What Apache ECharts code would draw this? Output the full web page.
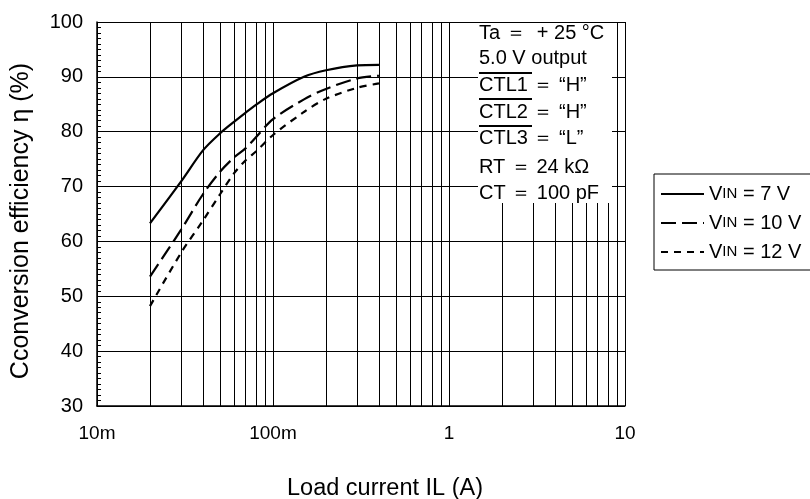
<!DOCTYPE html>
<html>
<head>
<meta charset="utf-8">
<script src="https://cdn.jsdelivr.net/npm/echarts@6/dist/echarts.min.js"></script>
<style>
  html, body { margin: 0; padding: 0; background: #fff; }
  #chart { width: 810px; height: 499px; }
</style>
</head>
<body>
<div id="chart"></div>
<script>
// ---- data ----
var currents = [0.02, 0.03, 0.04, 0.05, 0.06, 0.07, 0.08, 0.1, 0.15, 0.2, 0.3, 0.4];
var vin7  = [63.3, 70.9, 76.6, 79.7, 81.8, 83.5, 84.9, 87.0, 90.0, 91.2, 92.1, 92.2];
var vin10 = [53.6, 62.1, 68.6, 72.7, 75.3, 77.0, 79.0, 82.3, 85.9, 87.8, 89.7, 90.2];
var vin12 = [48.2, 57.9, 63.8, 68.6, 72.4, 74.8, 76.4, 79.4, 83.6, 86.0, 88.0, 88.8];
var seriesNames = ['VIN = 7 V', 'VIN = 10 V', 'VIN = 12 V'];
var xTickValues = [0.01, 0.1, 1, 10];
var xTickLabels = ['10m', '100m', '1', '10'];
var minorX = [0.02,0.03,0.04,0.05,0.06,0.07,0.08,0.09,
              0.2,0.3,0.4,0.5,0.6,0.7,0.8,0.9,
              2,3,4,5,6,7,8,9];
var notes = ['Ta \uFF1D  + 25 \u00B0C', '5.0 V output', 'CTL1 \uFF1D \u201CH\u201D',
             'CTL2 \uFF1D \u201CH\u201D', 'CTL3 \uFF1D \u201CL\u201D', 'RT \uFF1D 24 k\u03A9', 'CT \uFF1D 100 pF'];

function pairs(ys) { return currents.map(function (x, i) { return [x, ys[i]]; }); }

var FONT = 'Liberation Sans, Arial, sans-serif';
var chart = echarts.init(document.getElementById('chart'), null, { renderer: 'canvas' });

var noteY = [33, 58, 85, 112, 138, 167, 193];
var graphics = [{
  type: 'rect', z: 100,
  shape: { x: 478, y: 23, width: 134, height: 180 },
  style: { fill: '#fff' }
}];
notes.forEach(function (t, i) {
  graphics.push({
    type: 'text', z: 101, left: 479, top: noteY[i] - 10,
    style: { text: t, font: '20px ' + FONT, fill: '#000' }
  });
});
[73, 99, 126].forEach(function (y) {
  graphics.push({
    type: 'line', z: 101,
    shape: { x1: 479, y1: y, x2: 532, y2: y },
    style: { stroke: '#000', lineWidth: 2 }
  });
});

var option = {
  backgroundColor: '#fff',
  animation: false,
  textStyle: { fontFamily: FONT, color: '#000' },
  grid: { left: 97, right: 185, top: 22, bottom: 93, containLabel: false, outerBoundsMode: 'none' },
  legend: {
    orient: 'vertical', left: 654, top: 174,
    data: seriesNames,
    itemWidth: 43, itemHeight: 14, itemGap: 9,
    padding: [10, 40, 8, 6],
    itemStyle: { opacity: 0 },
    backgroundColor: '#fff', borderColor: '#000', borderWidth: 1,
    formatter: function (name) { return '{a|V}{b|IN}{a|' + name.slice(3) + '}'; },
    textStyle: {
      color: '#000', fontFamily: FONT,
      rich: { a: { fontSize: 20, lineHeight: 22, fontFamily: FONT, color: '#000' },
              b: { fontSize: 15, lineHeight: 22, fontFamily: FONT, color: '#000' } }
    }
  },
  xAxis: {
    type: 'log', logBase: 10, min: 0.01, max: 10,
    name: 'Load current IL (A)', nameLocation: 'middle', nameGap: 71,
    nameTextStyle: { fontSize: 23.5, color: '#000', fontFamily: FONT, padding: [0, 0, 0, 48] },
    axisLine: { lineStyle: { color: '#000', width: 1.5 } },
    axisTick: { show: false },
    axisLabel: {
      fontSize: 19, color: '#000', margin: 18, fontFamily: FONT,
      formatter: function (v) {
        var e = Math.round(Math.log10(v));
        for (var i = 0; i < xTickValues.length; i++) {
          if (Math.round(Math.log10(xTickValues[i])) === e) return xTickLabels[i];
        }
        return '';
      }
    },
    splitLine: { show: true, lineStyle: { color: '#000', width: 1 } }
  },
  yAxis: {
    type: 'value', min: 30, max: 100, interval: 10,
    name: 'Cconversion efficiency \u03B7 (%)', nameLocation: 'middle', nameGap: 63,
    nameTextStyle: { fontSize: 25, color: '#000', fontFamily: FONT, padding: [0, 14, 0, 0] },
    axisLine: { show: true, lineStyle: { color: '#000', width: 1.5 } },
    axisTick: { show: true, inside: true, length: 4, lineStyle: { color: '#000' } },
    minorTick: { show: true, splitNumber: 10, length: 4, lineStyle: { color: '#000' } },
    axisLabel: { fontSize: 20, color: '#000', margin: 14, fontFamily: FONT },
    splitLine: { show: true, lineStyle: { color: '#000', width: 1 } }
  },
  series: [
    {
      name: seriesNames[0], type: 'line', data: pairs(vin7), smooth: 0.3,
      symbol: 'none', lineStyle: { color: '#000', width: 2.2, type: 'solid' },
      itemStyle: { color: '#000' },
      markLine: {
        silent: true, symbol: 'none', label: { show: false },
        lineStyle: { color: '#000', width: 1, type: 'solid' },
        data: minorX.map(function (v) { return { xAxis: v }; })
      }
    },
    {
      name: seriesNames[1], type: 'line', data: pairs(vin10), smooth: 0.3,
      symbol: 'none', lineStyle: { color: '#000', width: 2.2, type: [15, 6] },
      itemStyle: { color: '#000' }
    },
    {
      name: seriesNames[2], type: 'line', data: pairs(vin12), smooth: 0.3,
      symbol: 'none', lineStyle: { color: '#000', width: 2.2, type: [7, 6] },
      itemStyle: { color: '#000' }
    }
  ],
  graphic: graphics
};
chart.setOption(option);
</script>
</body>
</html>
